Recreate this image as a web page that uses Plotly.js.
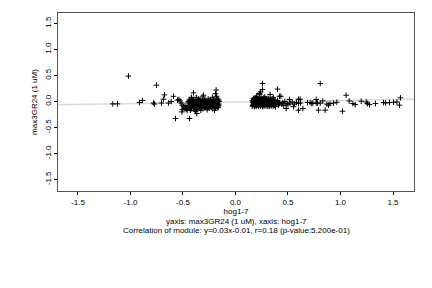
<!DOCTYPE html>
<html>
<head>
<meta charset="utf-8">
<script src="https://cdn.plot.ly/plotly-3.0.1.min.js"></script>
<style>html,body{margin:0;padding:0;background:#fff;}#chart{width:432px;height:288px;}</style>
</head>
<body>
<div id="chart"></div>
<script>
// hog1-7 (x) vs max3GR24 (1 uM) (y)
const outlierLeftX = [-1.019,-1.168,-1.124,-0.914,-0.886,-0.752,-0.781,-0.771,-0.705,-0.676,-0.686,-0.638,-0.612,-0.59,-0.552,-0.539,-0.527,-0.517,-0.508,-0.495,-0.51,-0.505,-0.571,-0.49,-0.48,-0.47];
const outlierLeftY = [0.487,-0.046,-0.046,-0.02,0.02,0.313,-0.03,-0.05,-0.03,0.127,0.044,-0.03,0.0,0.10,0.025,0.04,0.01,-0.03,-0.07,-0.10,-0.2,-0.155,-0.327,-0.13,-0.08,-0.12];

const clusterLeftX = [-0.44,-0.42,-0.40,-0.37,-0.35,-0.33,-0.30,-0.28,-0.26,-0.24,-0.21,-0.19,-0.17,-0.16,
  -0.45,-0.43,-0.41,-0.39,-0.36,-0.34,-0.32,-0.29,-0.27,-0.25,-0.23,-0.20,-0.18,-0.155,
  -0.44,-0.42,-0.40,-0.38,-0.355,-0.33,-0.31,-0.285,-0.265,-0.245,-0.22,-0.2,-0.175,-0.158,
  -0.45,-0.43,-0.41,-0.385,-0.36,-0.34,-0.315,-0.29,-0.27,-0.25,-0.225,-0.205,-0.18,-0.16,
  -0.44,-0.42,-0.40,-0.37,-0.34,-0.31,-0.28,-0.25,-0.22,-0.19,-0.165,
  -0.43,-0.38,-0.33,-0.27,-0.2,
  -0.42,-0.37,-0.31,-0.22,-0.18,
  -0.40,-0.374,-0.305,-0.184,-0.19,-0.368,-0.384,-0.438,-0.47,-0.46,
  -0.435,-0.405,-0.375,-0.345,-0.315,-0.295,-0.255,-0.235,-0.205,-0.185,-0.165,
  -0.445,-0.415,-0.395,-0.365,-0.325,-0.305,-0.275,-0.235,-0.215,-0.195,-0.17,
  -0.43,-0.4,-0.375,-0.345,-0.32,-0.3,-0.26,-0.24,-0.21,-0.185,-0.163,
  -0.425,-0.39,-0.36,-0.325,-0.295,-0.26,-0.23,-0.195,-0.17];
const clusterLeftY = [0.03,0.05,0.04,0.02,0.05,0.03,0.04,0.02,0.05,0.03,0.04,0.02,0.05,0.03,
  0.0,-0.01,0.01,-0.005,0.0,0.01,-0.01,0.005,-0.005,0.01,0.0,-0.01,0.005,0.0,
  -0.05,-0.04,-0.06,-0.045,-0.05,-0.06,-0.04,-0.055,-0.045,-0.06,-0.05,-0.04,-0.055,-0.05,
  -0.09,-0.1,-0.08,-0.095,-0.09,-0.1,-0.085,-0.1,-0.09,-0.08,-0.1,-0.09,-0.095,-0.085,
  -0.13,-0.14,-0.12,-0.15,-0.13,-0.14,-0.12,-0.13,-0.14,-0.13,-0.12,
  -0.17,-0.19,-0.17,-0.16,-0.17,
  0.08,0.07,0.09,0.08,0.10,
  0.165,0.077,0.12,0.22,0.15,-0.23,-0.167,-0.327,-0.15,-0.17,
  0.015,0.02,0.01,0.025,0.015,0.02,0.01,0.02,0.015,0.025,0.01,
  -0.025,-0.03,-0.02,-0.03,-0.025,-0.02,-0.03,-0.025,-0.02,-0.03,-0.025,
  -0.07,-0.075,-0.065,-0.07,-0.075,-0.065,-0.07,-0.075,-0.065,-0.07,-0.07,
  -0.11,-0.115,-0.105,-0.11,-0.115,-0.105,-0.11,-0.115,-0.105];

const clusterRightX = [0.17,0.19,0.21,0.23,0.25,0.27,0.29,0.31,0.33,0.35,
  0.16,0.18,0.2,0.22,0.24,0.26,0.28,0.3,0.32,0.34,0.36,0.38,0.4,
  0.165,0.185,0.205,0.225,0.245,0.265,0.285,0.305,0.325,0.345,0.365,0.385,0.405,0.42,
  0.17,0.19,0.21,0.23,0.25,0.27,0.29,0.31,0.33,0.35,0.37,0.39,0.41,0.44,
  0.16,0.18,0.2,0.22,0.24,0.26,0.28,0.3,0.32,0.34,0.36,0.38,
  0.2,0.23,0.229,0.24,0.257,0.257,0.4,0.33,0.419,0.432,0.28,0.36,
  0.45,0.47,0.483,0.49,0.514,0.52,0.54,0.552,0.56,0.58,0.6,0.616,0.6,0.6,0.642,0.62,0.46,0.5,
  0.175,0.195,0.215,0.235,0.255,0.275,0.295,0.315,0.335,0.355,
  0.17,0.19,0.21,0.235,0.255,0.275,0.3,0.32,0.34,0.355,0.375,0.395,
  0.175,0.2,0.22,0.24,0.265,0.285,0.31,0.33,0.35,0.37,0.39,0.415,
  0.165,0.19,0.215,0.235,0.26,0.28,0.305,0.325,0.345,0.37];
const clusterRightY = [0.06,0.07,0.05,0.08,0.06,0.07,0.05,0.06,0.04,0.05,
  0.02,0.03,0.01,0.025,0.015,0.03,0.02,0.01,0.025,0.015,0.02,0.01,0.02,
  -0.02,-0.01,-0.025,-0.015,-0.02,-0.03,-0.01,-0.025,-0.02,-0.015,-0.03,-0.02,-0.01,-0.025,
  -0.06,-0.05,-0.065,-0.055,-0.06,-0.07,-0.05,-0.06,-0.065,-0.055,-0.06,-0.05,-0.07,-0.05,
  -0.09,-0.1,-0.085,-0.095,-0.09,-0.1,-0.085,-0.09,-0.095,-0.085,-0.09,-0.1,
  0.1,0.13,0.154,0.185,0.23,0.346,0.237,0.135,0.10,0.10,0.09,0.08,
  -0.02,0.0,-0.135,-0.04,0.038,-0.03,-0.01,-0.10,-0.05,-0.02,0.044,0.044,-0.04,-0.167,-0.135,-0.03,-0.08,-0.06,
  0.04,0.045,0.035,0.05,0.04,0.045,0.035,0.04,0.03,0.035,
  0.0,0.005,-0.005,0.0,0.005,-0.005,0.0,0.005,-0.005,0.0,0.0,-0.005,
  -0.04,-0.035,-0.045,-0.04,-0.035,-0.045,-0.04,-0.035,-0.045,-0.04,-0.035,-0.045,
  -0.075,-0.08,-0.07,-0.075,-0.08,-0.07,-0.075,-0.08,-0.07,-0.075];

const outlierRightX = [0.686,0.711,0.727,0.737,0.769,0.781,0.807,0.769,0.832,0.807,0.79,0.854,0.87,0.886,0.9,0.933,0.965,1.019,1.054,1.083,1.118,1.14,1.197,1.245,1.257,1.276,1.333,1.41,1.43,1.467,1.505,1.537,1.571,1.562];
const outlierRightY = [-0.02,-0.02,-0.04,-0.03,-0.03,-0.03,-0.03,0.038,0.01,0.346,-0.167,-0.167,-0.05,-0.07,-0.04,-0.03,-0.015,-0.187,0.12,0.01,-0.04,-0.06,0.005,-0.01,-0.04,-0.06,-0.04,-0.02,-0.03,-0.02,-0.015,-0.01,0.07,-0.07];

const fitSlope = 0.03, fitIntercept = -0.01;
const xRange = [-1.69, 1.70], yRange = [-1.72, 1.70];
const tickVals = [-1.5,-1.0,-0.5,0.0,0.5,1.0,1.5];

const xs = [].concat(outlierLeftX, clusterLeftX, clusterRightX, outlierRightX);
const ys = [].concat(outlierLeftY, clusterLeftY, clusterRightY, outlierRightY);

const font = {family: 'Liberation Sans, Arial, sans-serif', size: 8, color: '#000000'};

const traces = [
  {x: xRange, y: xRange.map(v => fitSlope * v + fitIntercept), mode: 'lines', type: 'scatter',
   line: {color: '#d9d9d9', width: 1.5}, hoverinfo: 'skip', showlegend: false},
  {x: xs, y: ys, mode: 'markers', type: 'scatter', showlegend: false,
   marker: {symbol: 'cross-thin-open', size: 4, color: '#000', line: {color: '#000', width: 1}}}
];

const axisCommon = {
  showgrid: false, zeroline: false, showline: true, mirror: true,
  linecolor: '#555', linewidth: 1, ticks: 'outside', ticklen: 3, tickwidth: 1, tickcolor: '#000',
  tickvals: tickVals, ticktext: tickVals.map(v => v.toFixed(1)), tickfont: font
};

const layout = {
  width: 432, height: 288,
  margin: {l: 58, r: 18, t: 13, b: 97},
  paper_bgcolor: '#fff', plot_bgcolor: '#fff',
  font: font,
  xaxis: Object.assign({}, axisCommon, {range: xRange,
    title: {text: 'hog1-7', font: font, standoff: 2}}),
  yaxis: Object.assign({}, axisCommon, {range: yRange, tickangle: -90,
    title: {text: 'max3GR24 (1 uM)', font: font, standoff: 4}}),
  annotations: [
    {text: 'yaxis: max3GR24 (1 uM), xaxis: hog1-7', xref: 'paper', yref: 'paper',
     x: 0.5, y: -0.172, xanchor: 'center', yanchor: 'middle', showarrow: false, font: font},
    {text: 'Correlation of module: y=0.03x-0.01, r=0.18 (p-value:5.200e-01)', xref: 'paper', yref: 'paper',
     x: 0.5, y: -0.22, xanchor: 'center', yanchor: 'middle', showarrow: false, font: font}
  ]
};

Plotly.newPlot('chart', traces, layout, {staticPlot: true, displayModeBar: false});
</script>
</body>
</html>
